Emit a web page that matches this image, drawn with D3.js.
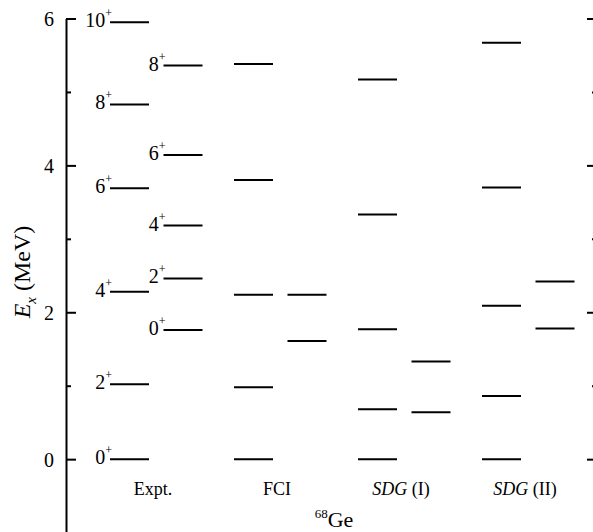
<!DOCTYPE html>
<html>
<head>
<meta charset="utf-8">
<script src="https://cdn.jsdelivr.net/npm/d3@7"></script>
<style>
  body { margin: 0; background: #fff; }
  svg { display: block; font-family: "Liberation Serif", "Times New Roman", serif; }
  .axis path, .axis line { stroke: #000; stroke-width: 2; }
  .axis text { font-size: 20px; fill: #000; }
</style>
</head>
<body>
<div class="chart"></div>
<script>
// level energies (MeV)
var groups = ["Expt.", "FCI", "SDG (I)", "SDG (II)"];

var exptA = [0, 1.02, 2.28, 3.69, 4.83, 5.95];
var exptALabels = ["0", "2", "4", "6", "8", "10"];
var exptB = [1.76, 2.46, 3.18, 4.14, 5.36];
var exptBLabels = ["0", "2", "4", "6", "8"];

var fciA = [0, 0.98, 2.24, 3.80, 5.38];
var fciB = [1.61, 2.24];

var sdg1A = [0, 0.68, 1.77, 3.33, 5.17];
var sdg1B = [0.64, 1.33];

var sdg2A = [0, 0.86, 2.09, 3.70, 5.67];
var sdg2B = [1.78, 2.42];

var majorTicks = [0, 2, 4, 6];
var minorTicks = [-1, 1, 3, 5];

var fullWidth = 593;
var fullHeight = 532;
var serif = '"Liberation Serif", "Times New Roman", serif';

// flatten into one list of levels
var levels = [];
function addLevels(group, sub, values, labels) {
  values.forEach(function(v, i) {
    levels.push({group: group, sub: sub, e: v, label: labels ? labels[i] : null});
  });
}
addLevels("Expt.", 0, exptA, exptALabels);
addLevels("Expt.", 1, exptB, exptBLabels);
addLevels("FCI", 0, fciA);
addLevels("FCI", 1, fciB);
addLevels("SDG (I)", 0, sdg1A);
addLevels("SDG (I)", 1, sdg1B);
addLevels("SDG (II)", 0, sdg2A);
addLevels("SDG (II)", 1, sdg2B);

var svg = d3.select('.chart').append('svg')
  .attr('width', fullWidth)
  .attr('height', fullHeight)
  .attr('font-family', serif);

var left = 66, right = 597;

var yScale = d3.scaleLinear()
  .domain([-1, 6])
  .range([532.6, 18.5]);

var xGroup = d3.scaleBand()
  .domain(groups)
  .range([100, 596]);

var xSub = d3.scaleBand()
  .domain([0, 1])
  .range([10, 102.5])
  .paddingInner(0.271);

// axes
function addAxis(axis, x, keepDomain) {
  var g = svg.append('g')
    .classed('axis', true)
    .attr('transform', 'translate(' + x + ',0)')
    .call(axis);
  g.attr('font-family', serif).attr('font-size', 20);
  if (!keepDomain) g.select('.domain').remove();
  return g;
}

addAxis(d3.axisLeft(yScale).tickValues(majorTicks).tickSize(-10).tickSizeOuter(0)
  .tickPadding(12).tickFormat(d3.format('d')), left, true);
addAxis(d3.axisLeft(yScale).tickValues(minorTicks).tickSize(-5).tickFormat(''), left, false);
addAxis(d3.axisRight(yScale).tickValues(majorTicks).tickSize(-10).tickSizeOuter(0).tickFormat(''), right, true);
addAxis(d3.axisRight(yScale).tickValues(minorTicks).tickSize(-5).tickFormat(''), right, false);

svg.selectAll('.axis .tick text').attr('dy', '0.35em');

// level lines
var holder = svg.append('g').classed('levels', true);

holder.selectAll('line.level')
    .data(levels)
  .enter().append('line')
    .classed('level', true)
    .attr('x1', function(d) { return xGroup(d.group) + xSub(d.sub); })
    .attr('x2', function(d) { return xGroup(d.group) + xSub(d.sub) + xSub.bandwidth(); })
    .attr('y1', function(d) { return yScale(d.e); })
    .attr('y2', function(d) { return yScale(d.e); })
    .attr('stroke', '#000')
    .attr('stroke-width', 2);

// spin labels
var lbl = holder.selectAll('text.spin')
    .data(levels.filter(function(d) { return d.label !== null; }))
  .enter().append('text')
    .classed('spin', true)
    .attr('x', function(d) { return xGroup(d.group) + xSub(d.sub) + 2; })
    .attr('y', function(d) { return yScale(d.e) + 5; })
    .attr('text-anchor', 'end')
    .style('font-size', '20px');
lbl.append('tspan').text(function(d) { return d.label; });
lbl.append('tspan')
  .attr('dy', -10)
  .style('font-size', '12px')
  .text('+');

// group names
var names = svg.append('g').selectAll('text.group')
    .data(groups)
  .enter().append('text')
    .classed('group', true)
    .attr('x', function(d) { return xGroup(d) + 53; })
    .attr('y', 495)
    .attr('text-anchor', 'middle')
    .style('font-size', '18px');
names.each(function(d) {
  var t = d3.select(this);
  if (d.indexOf('SDG') === 0) {
    t.append('tspan').style('font-style', 'italic').text('SDG');
    t.append('tspan').text(d.slice(3));
  } else {
    t.text(d);
  }
});

// nucleus
var nuc = svg.append('text')
  .attr('x', 334)
  .attr('y', 527)
  .attr('text-anchor', 'middle')
  .style('font-size', '22px');
nuc.append('tspan').attr('dy', -9).style('font-size', '13px').text('68');
nuc.append('tspan').attr('dy', 9).text('Ge');

// y title
var yt = svg.append('text')
  .attr('transform', 'translate(30,272) rotate(-90)')
  .attr('text-anchor', 'middle')
  .style('font-size', '24px');
yt.append('tspan').style('font-style', 'italic').text('E');
yt.append('tspan').attr('dy', 6).style('font-style', 'italic').style('font-size', '15px').text('x');
yt.append('tspan').attr('dy', -6).text('\u00a0(MeV)');
</script>
</body>
</html>
